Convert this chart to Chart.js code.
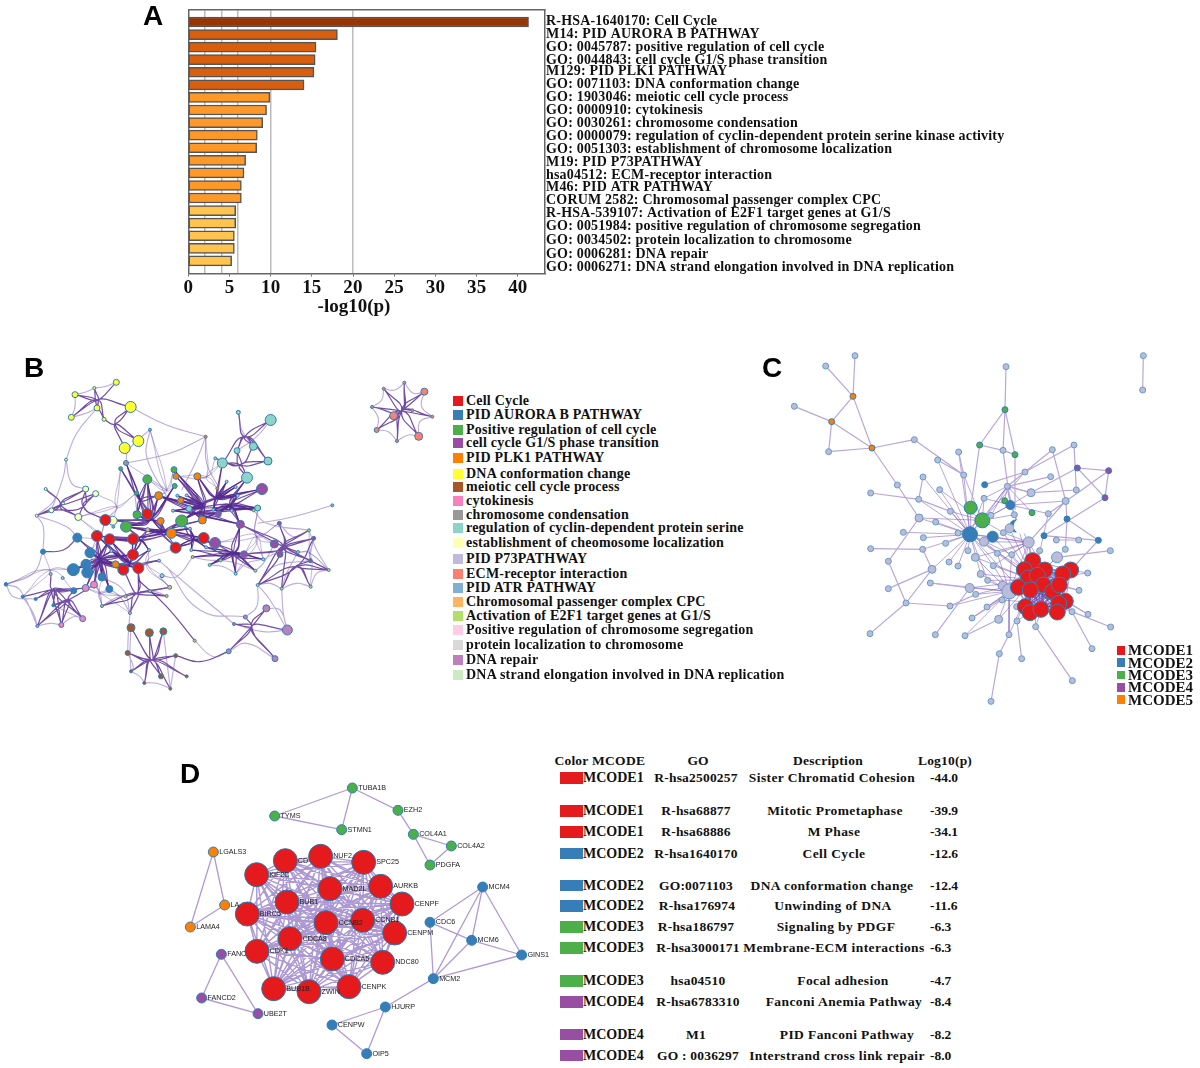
<!DOCTYPE html>
<html lang="en">
<head>
<meta charset="UTF-8">
<title>Enrichment and MCODE networks</title>
<script src="https://cdn.jsdelivr.net/npm/chart.js"></script>
<style>
    body { margin: 0; background: #fff; }
    #page { position: relative; width: 1200px; height: 1068px; overflow: hidden; font-family: "Liberation Serif", serif; font-weight: bold; color: #111; }
    canvas { position: absolute; }
    .panel { position: absolute; font: bold 28px "Liberation Sans", sans-serif; color: #000; line-height: 1; }
    .txt { position: absolute; white-space: nowrap; line-height: 1; transform: translateY(-50%); }
    .mid { transform: translate(-50%, -50%); }
    .sw { position: absolute; }
</style>
</head>
<body>
<div id="page">
    <canvas id="barChart" width="880" height="320" style="left:140px;top:0"></canvas>
    <canvas id="netB" width="450" height="350" style="left:0;top:350px"></canvas>
    <canvas id="netC" width="450" height="380" style="left:750px;top:340px"></canvas>
    <canvas id="netD" width="380" height="298" style="left:170px;top:770px"></canvas>
    <div class="panel" style="left:143px;top:2px">A</div>
    <div class="panel" style="left:24px;top:354px">B</div>
    <div class="panel" style="left:762px;top:354px">C</div>
    <div class="panel" style="left:180px;top:760px">D</div>
</div>
<script>
// Panel A
const termLabels = [
    'R-HSA-1640170: Cell Cycle', 'M14: PID AURORA B PATHWAY', 'GO: 0045787: positive regulation of cell cycle',
    'GO: 0044843: cell cycle G1/S phase transition', 'M129: PID PLK1 PATHWAY', 'GO: 0071103: DNA conformation change',
    'GO: 1903046: meiotic cell cycle process', 'GO: 0000910: cytokinesis', 'GO: 0030261: chromosome condensation',
    'GO: 0000079: regulation of cyclin-dependent protein serine kinase activity', 'GO: 0051303: establishment of chromosome localization',
    'M19: PID P73PATHWAY', 'hsa04512: ECM-receptor interaction', 'M46: PID ATR PATHWAY', 'CORUM 2582: Chromosomal passenger complex CPC',
    'R-HSA-539107: Activation of E2F1 target genes at G1/S', 'GO: 0051984: positive regulation of chromosome segregation',
    'GO: 0034502: protein localization to chromosome', 'GO: 0006281: DNA repair', 'GO: 0006271: DNA strand elongation involved in DNA replication'
];
const termLabelY = [19, 32, 45, 58, 70, 83, 96, 109, 122, 135, 148, 161, 174, 187, 200, 213, 226, 240, 254, 267];
const logP = [41.3, 18.1, 15.5, 15.4, 15.25, 14.05, 9.9, 9.5, 9.03, 8.38, 8.3, 6.96, 6.76, 6.44, 6.44, 5.75, 5.75, 5.59, 5.59, 5.26];
const barTier = [0, 1, 1, 1, 1, 1, 2, 2, 2, 2, 2, 2, 2, 2, 2, 3, 3, 3, 3, 3];
const tierColors = ['#993404', '#d95f0e', '#fe9929', '#fec44f'];
const gridValues = [2, 4, 6, 10, 20];
const xTickStep = 5;

// Panel B legend
const termLegend = ['Cell Cycle', 'PID AURORA B PATHWAY', 'Positive regulation of cell cycle', 'cell cycle G1/S phase transition', 'PID PLK1 PATHWAY',
    'DNA conformation change', 'meiotic cell cycle process', 'cytokinesis', 'chromosome condensation', 'regulation of cyclin-dependent protein serine',
    'establishment of cheomosome localization', 'PID P73PATHWAY', 'ECM-receptor interaction', 'PID ATR PATHWAY', 'Chromosomal passenger complex CPC',
    'Activation of E2F1 target genes at G1/S', 'Positive regulation of chromosome segregation', 'protein localization to chromosome', 'DNA repair',
    'DNA strand elongation involved in DNA replication'];
const termColors = ['#e41a1c', '#377eb8', '#4daf4a', '#984ea3', '#ff7f00', '#ffff33', '#a65628', '#f781bf', '#999999', '#8dd3c7',
    '#ffffb3', '#bebada', '#fb8072', '#80b1d3', '#fdb462', '#b3de69', '#fccde5', '#d9d9d9', '#bc80bd', '#ccebc5'];
const termLegendY = [400.7, 415, 430, 443.3, 458.3, 474, 486.7, 500.7, 515.3, 528.3, 543.3, 559, 574, 588, 602, 616, 630, 645, 660, 674.7];

// Panel B nodes, x / y / r, one list per term
const bCellCycle = [[316,510,5.5],[291,558,5.5],[329,568,5.5],[399,567,5.5],[442,492,5.5],[399,614,5.5],[370,659,5.5],[415,654,5.5],[527,593,5.5],[611,564,5.5]];
const bAurora = [[232,563,4.5],[270,608,5],[258,643,5],[220,659,6],[262,667,5.5],[306,681,4],[328,717,3.5],[129,605,2.5],[221,722,3],[18,703,1.8],[68,740,1.5],[107,747,1.5],[160,766,1.5]];
const bPosReg = [[442,388,4.5],[522,359,3],[524,408,2.5],[411,494,4],[378,530,5.5],[545,513,6],[362,356,2],[410,429,2]];
const bG1S = [[786,417,5.5],[645,579,5.5],[721,523,4],[823,582,4],[732,613,3.5],[840,613,3],[655,492,3],[838,520,2],[941,565,2],[931,632,2]];
const bPlk1 = [[476,437,4],[528,379,3],[592,379,3.5],[542,451,3],[482,513,3.5],[607,510,4],[514,550,5],[347,643,3.5],[652,415,1.5],[617,260,1.5]];
const bDnaConf = [[392,171,5.5],[415,273,5.5],[374,294,5.5],[349,97,3],[225,134,3],[214,202,3],[291,174,3],[283,114,1.5],[312,208,2],[198,329,1.5]];
const bMeiotic = [[393,833,4],[448,848,4],[490,844,3.5],[383,909,2.5],[527,917,2],[393,964,1.5],[483,979,2.5],[560,979,1.5],[433,999,1.5],[511,1016,1.5]];
const bCytokinesis = [[282,704,3.5],[257,714,3.5],[248,806,3],[184,825,2.5],[112,828,1.5]];
const bCondensation = [[378,339,2.5]];
const bCyclinReg = [[812,210,5.5],[667,339,5],[741,383,5.5],[760,289,4],[804,333,4],[711,302,3],[715,187,2],[773,474,3],[567,476,3],[646,325,1.5]];
const bLocalization = [[338,512,4.5],[235,501,3.5],[287,431,3],[257,417,3],[154,481,2.5],[189,460,1.5],[137,417,1.5],[110,497,1.5]];
const bP73 = [[486,677,2],[447,600,1.5],[334,603,1.5],[532,437,1.5],[560,436,1.5],[680,395,1.5],[707,411,1.5],[713,437,1.5],[695,482,1.5],[519,482,1.5],[640,479,1.5],[570,536,1.5],[618,592,1.5],[574,600,1.5],[477,632,1.5],[152,672,1.5],[188,684,1.5]];
const bEcm = [[1273,125,3.5],[1256,259,4],[1181,197,4],[1130,240,2.5],[1151,116,1.5],[1213,98,1.5],[1116,171,1.5],[1297,200,1.5],[1191,273,1.5],[1237,181,1.5]];
const bAtr = [[997,466,1.5],[450,239,1.5],[340,530,1.5]];
const bCpc = [[443,539,2],[509,712,2],[450,723,1.5],[500,738,1.5],[376,739,1.5],[306,768,1.5],[390,789,1.5],[584,872,1.5],[578,621,1.5]];
const bE2f = [[927,541,1.5],[894,606,1.5],[790,628,1.5],[766,662,1.5],[707,671,1.5],[662,631,1.5],[629,645,1.5],[761,481,1.5],[773,705,1.5],[932,710,1.5],[845,716,1.5],[986,660,1.5]];
const bDnaRepair = [[862,840,5],[799,775,3.5],[736,801,2],[702,822,1.5],[686,904,2.5],[825,926,3]];
const bNodeSets = [bCellCycle, bAurora, bPosReg, bG1S, bPlk1, bDnaConf, bMeiotic, bCytokinesis, bCondensation, bCyclinReg, bLocalization, bP73, bEcm, bAtr, bCpc, bE2f, [], [], bDnaRepair, []];

// Panel B bundles: first pair is the junction, the rest are the nodes that meet there
const bBundles = [
    [1205,183, 1181,197,1273,125,1256,259,1130,240,1151,116,1213,98,1116,171,1297,200,1191,273,1237,181],
    [292,150, 349,97,283,114,225,134,291,174,214,202,312,208,392,171],
    [345,222, 312,208,392,171,415,273,374,294],
    [735,260, 715,187,812,210,760,289,711,302,804,333,667,339],
    [720,345, 667,339,741,383,804,333,711,302,646,325,760,289],
    [160,720, 68,740,107,747,160,766,112,828,184,825,248,806,221,722,257,714,152,672],
    [205,750, 221,722,248,806,184,825,112,828,160,766,282,704],
    [180,465, 137,417,110,497,154,481,189,460,235,501,257,417,287,431],
    [250,470, 235,501,287,431,316,510,257,417,154,481],
    [850,590, 823,582,840,613,941,565,927,541,931,632,894,606,986,660,721,523,732,613,838,520,773,705,845,716],
    [890,650, 931,632,986,660,845,716,932,710,773,705,941,565],
    [455,930, 393,833,448,848,490,844,383,909,527,917,393,964,483,979,560,979,433,999,511,1016],
    [410,730, 376,739,450,723,509,712,500,738,390,789,306,768,415,654,370,659],
    [755,830, 736,801,702,822,686,904,799,775,825,926,862,840]
];
// the crowded middle of the network, each junction is walked twice
const bDenseBundles = [
    [610,470, 592,379,528,379,522,359,476,437,542,451,567,476,532,437,560,436,519,482,545,513,607,510],
    [650,445, 667,339,652,415,592,379,680,395,707,411,713,437,640,479,567,476,786,417,741,383],
    [690,465, 786,417,741,383,773,474,761,481,695,482,721,523,655,492,713,437,640,479,607,510,567,476],
    [590,490, 545,513,607,510,655,492,721,523,773,474,519,482,476,437],
    [490,545, 514,550,545,513,482,513,442,492,378,530,399,567,443,539,570,536,611,564,527,593,607,510],
    [450,510, 442,492,411,494,476,437,524,408,410,429,442,388,378,530,338,512,316,510,482,513],
    [420,450, 362,356,378,339,442,388,410,429,411,494,476,437],
    [420,570, 378,530,399,567,447,600,399,614,329,568,291,558,514,550,443,539],
    [580,570, 545,513,611,564,645,579,527,593,570,536,574,600,618,592,514,550],
    [300,630, 232,563,270,608,258,643,220,659,262,667,306,681,328,717,291,558,329,568,370,659,415,654,347,643,399,614,334,603,282,704,257,714],
    [390,640, 399,567,370,659,415,654,347,643,334,603,447,600,329,568,291,558,477,632],
    [700,610, 645,579,732,613,662,631,629,645,707,671,766,662,790,628,721,523,618,592,578,621,574,600]
];
const bLightBundles = [
    [620,380, 617,260,592,379,667,339,652,415,528,379,646,325],
    [500,420, 378,339,442,388,522,359,476,437,450,239,524,408],
    [350,470, 287,431,316,510,235,501,410,429,362,356,338,512],
    [440,640, 486,677,477,632,415,654,447,600,509,712,527,593],
    [300,560, 232,563,235,501,291,558,316,510,270,608,334,603],
    [150,660, 129,605,152,672,220,659,68,740,18,703,221,722],
    [300,730, 306,681,328,717,376,739,306,768,282,704,257,714,390,789],
    [770,560, 721,523,732,613,790,628,823,582,773,474,838,520,645,579,707,671],
    [930,610, 927,541,941,565,931,632,986,660,894,606,932,710]
];
const bStrongArcs = [[415,690,500,770,584,872],[686,904,600,935,528,917],[129,605,190,600,232,563]];
const bLightArcs = [
    [1151,116,1185,120,1213,98],[1213,98,1240,130,1273,125],[1273,125,1265,170,1297,200],[1297,200,1260,215,1256,259],[1256,259,1225,255,1191,273],[1191,273,1165,245,1130,240],[1130,240,1135,205,1116,171],[1116,171,1145,150,1151,116],
    [349,97,312,110,283,114],[283,114,260,125,225,134],[225,134,225,170,214,202],[214,202,258,190,291,174],[198,329,230,250,291,174],[198,329,190,380,154,481],[198,329,215,400,257,417],[137,417,165,445,110,497],[110,497,130,530,129,605],[110,497,200,530,232,563],
    [392,171,500,225,617,260],[378,339,510,310,617,260],[617,260,620,340,655,410],[617,260,590,330,545,420],[450,239,440,320,500,440],[450,239,385,300,378,339],[362,356,400,420,410,480],
    [715,187,725,240,760,289],[812,210,770,260,711,302],[129,605,100,670,18,703],[18,703,60,720,112,828],[18,703,40,740,107,747],[68,740,100,790,112,828],[112,828,150,820,184,825],[184,825,220,800,248,806],[160,766,210,790,248,806],
    [997,466,880,500,773,520],[838,520,880,560,927,541],[927,541,950,600,986,660],[986,660,950,670,932,710],[932,710,890,700,845,716],[845,716,810,700,773,705],[773,705,770,770,736,801],[773,705,810,750,862,840],[799,775,840,780,862,840],[845,716,850,790,862,840],[686,904,740,880,825,926],[862,840,790,845,702,822],[584,872,640,920,686,904],[477,632,580,720,702,822],[500,650,600,780,736,801],[486,677,530,680,578,621],[509,712,480,680,486,677],
    [390,789,385,850,383,909],[393,833,390,900,393,964],[490,844,500,930,511,1016],[527,917,520,960,511,1016],[433,999,470,1000,511,1016],[393,964,420,980,433,999],[383,909,400,950,393,964],[306,768,345,745,376,739],[500,738,460,725,376,739],[509,712,450,723,376,739],[306,768,290,700,270,608],[390,789,370,720,306,681],[328,717,360,740,390,789],
    [761,481,800,520,927,541],[790,628,830,610,894,606],[707,671,740,640,790,628],[766,662,790,640,823,582],[629,645,670,650,707,671],[662,631,710,640,766,662],[578,621,620,630,662,631],[845,716,860,670,894,606],[773,705,820,650,931,632]
];

// Panel C
const mcodeNames = ['MCODE1', 'MCODE2', 'MCODE3', 'MCODE4', 'MCODE5'];
const mcodeColors = ['#e41a1c', '#377eb8', '#4daf4a', '#984ea3', '#ff7f00'];
const mcodeLegendY = [650.3, 662.7, 675, 687.3, 699.7];
const cOther = [[315,47,3],[227,78,3],[133,199,3],[236,335,3],[493,299,3],[768,80,3],[1180,47,3],[1178,150,3],[563,360,3],[626,336,3],[759,331,3],[907,329,3],[972,315,3],[641,405,3],[519,411,3],[442,435,3],[569,449,3],[362,459,3],[506,478,3],[702,475,3],[772,439,3],[825,396,3],[902,410,3],[843,458,4],[979,450,3],[947,483,3.5],[601,514,3],[507,534,4],[557,546,3],[723,526,3],[793,524,3],[895,521,3],[460,577,3],[520,593,3],[624,579,3],[587,610,3],[760,578,3],[779,565,4.5],[836,607,5.5],[702,605,4.5],[919,600,3],[986,600,3],[1081,632,3],[362,626,3],[518,628,3],[654,632,3],[742,640,3],[785,644,3],[869,632,3],[946,628,3],[415,664,3],[597,666,3],[624,678,3],[676,652,4],[921,652,5.5],[730,677,3],[546,688,4],[692,702,3.5],[713,721,3],[1013,699,3],[541,729,3],[415,746,3],[659,744,4.5],[758,737,4.5],[778,754,7.5],[677,763,3],[987,751,3],[468,789,3],[600,798,3],[756,780,3],[711,801,3],[800,800,3],[1014,823,3],[966,815,3],[666,834,3],[746,838,4],[801,843,3],[857,860,3],[1082,861,3],[360,881,3],[556,884,3],[645,887,3],[777,884,3],[1026,926,3],[748,941,3],[815,956,3],[967,1022,3],[723,1084,3]];
const cMcode1 = [[848,662,8],[823,689,8],[884,690,8],[962,690,8],[938,702,8],[835,714,8],[862,706,8],[880,735,8],[805,742,8],[841,750,8],[908,755,8],[928,735,8],[826,800,8],[840,818,8],[873,808,8],[946,784,8],[926,790,8],[922,816,8]];
const cMcode2 = [[704,434,3],[781,495,4.5],[951,537,3],[882,587,3],[1045,601,3],[660,583,7.5],[728,590,5.5],[797,558,6]];
const cMcode3 = [[765,209,3],[689,315,3],[795,344,3],[764,482,3],[846,518,3],[662,503,6.5],[697,541,7.5]];
const cMcode4 = [[982,384,3],[1076,392,3],[1065,473,3]];
const cMcode5 = [[309,169,3],[245,245,3],[366,324,3]];
const cBlank = [[815,558,7.5]];
const cLinks = [[315,47,309,169],[227,78,309,169],[309,169,245,245],[309,169,366,324],[133,199,245,245],[245,245,236,335],[245,245,366,324],[236,335,366,324],[366,324,493,299],[366,324,442,435],[493,299,641,405],[442,435,507,534],
    [768,80,765,209],[765,209,689,315],[765,209,759,331],[765,209,795,344],[689,315,759,331],[759,331,795,344],[689,315,662,503],[795,344,795,510],[759,331,781,495],[1180,47,1178,150],
    [362,459,506,478],[506,478,601,514],[519,411,506,478],[507,534,415,664],[415,664,468,789],[415,746,546,688],[468,789,600,798],[468,789,546,688],[360,881,468,789],[362,626,518,628],[518,628,546,688],[541,729,659,744],[556,884,659,744],[645,887,746,838],[600,798,677,763],[723,1084,748,941],[748,941,777,884],[815,956,801,843],[967,1022,857,860],[1026,926,966,815],[1082,861,966,815],[1014,823,946,784],[987,751,928,735],[1013,699,962,690],[1081,632,921,652],[986,600,919,600],[1045,601,882,587],[1045,601,951,537],[1045,601,962,690],[951,537,947,483],[951,537,946,628],[947,483,907,329],[947,483,836,607],[972,315,825,396],[907,329,772,439],[972,315,979,450],[979,450,843,458],[982,384,1076,392],[982,384,1065,473],[1076,392,1065,473],[982,384,843,458],[1076,392,895,521],[1065,473,882,587],[902,410,772,439],[563,360,641,405],[626,336,641,405],[825,396,704,434],[843,458,772,439],[825,396,772,439]];
const cStars = [
    [660,583, 563,360,626,336,641,405,519,411,569,449,506,478,601,514,507,534,557,546,460,577,520,593,624,579,587,610,518,628,654,632,597,666,624,678,546,688,702,605,728,590,697,541,662,503,772,439,702,475],
    [697,541, 641,405,702,475,772,439,825,396,601,514,569,449,507,534,624,579,781,495,793,524,760,578],
    [850,720, 836,607,869,632,785,644,742,640,676,652,730,677,692,702,713,721,659,744,677,763,758,737,756,780,711,801,666,834,746,838,801,843,777,884,857,860,921,652,946,628,895,521,793,524,779,565,760,578,728,590,702,605,1014,823,966,815,987,751,1013,699],
    [778,754, 836,607,742,640,785,644,676,652,692,702,713,721,659,744,677,763,600,798,711,801,666,834,645,887,746,838,777,884,730,677,541,729,848,662,823,689,835,714],
    [660,583, 836,607,730,677,692,702,713,721,785,644,742,640,805,742,823,689],
    [880,790, 826,800,840,818,873,808,946,784,926,790,922,816,908,755,841,750,805,742,880,735,928,735,835,714,862,706,884,690,848,662,800,800,756,780,857,860,801,843,966,815],
    [772,439, 702,475,723,526,793,524,781,495,843,458,764,482,846,518],
    [781,495, 702,475,723,526,793,524,843,458,895,521,947,483],
    [836,607, 728,590,760,578,702,605,742,640,785,644,676,652,730,677,793,524,848,662,823,689,884,690]
];

// Panel D
const dMcode1 = { KIF2C:[260,314], CD:[346,272], NUF2:[452,259], SPC25:[581,277], MAD2L:[480,356], AURKB:[632,349], BUB1:[351,396], CENPF:[696,402], BIRC5:[232,432], CCNB2:[468,458], CCNB1:[578,451], CENPM:[674,489], CDCA8:[360,506], CDK1:[261,544], CDCA5:[487,567], NDC80:[638,577], BUB1B:[311,656], ZWIN:[417,665], CENPK:[537,650] };
const dMcode2 = { MCM4:[938,351], CDC6:[780,457], MCM6:[905,511], GINS1:[1055,555], MCM2:[790,626], HJURP:[646,711], CENPW:[486,765], OIP5:[590,851] };
const dMcode3 = { TUBA1B:[547,54], EZH2:[684,121], COL4A1:[730,193], COL4A2:[844,228], PDGFA:[780,285], TYMS:[314,138], STMN1:[515,179] };
const dMcode4 = { FANC:[154,553], FANCD2:[95,684], UBE2T:[264,731] };
const dMcode5 = { LGALS3:[130,246], LA:[164,405], LAMA4:[61,471] };
const dLinks = [['TYMS','TUBA1B'],['TYMS','STMN1'],['TUBA1B','STMN1'],['TUBA1B','EZH2'],['EZH2','COL4A1'],['COL4A1','COL4A2'],['COL4A1','PDGFA'],['COL4A2','PDGFA'],
    ['LGALS3','LA'],['LGALS3','LAMA4'],['LA','LAMA4'],['FANC','FANCD2'],['FANC','UBE2T'],['FANCD2','UBE2T'],
    ['MCM4','MCM2'],['MCM4','MCM6'],['MCM4','GINS1'],['MCM4','CDC6'],['CDC6','MCM6'],['CDC6','MCM2'],['MCM6','GINS1'],['MCM6','MCM2'],['MCM2','GINS1'],['MCM2','HJURP'],['HJURP','CENPW'],['HJURP','OIP5'],['CENPW','OIP5']];

// Panel D table
const tableMcode = [0, 0, 0, 1, 1, 1, 2, 2, 2, 3, 3, 3];
const tableGo = ['R-hsa2500257', 'R-hsa68877', 'R-hsa68886', 'R-hsa1640170', 'GO:0071103', 'R-hsa176974', 'R-hsa186797', 'R-hsa3000171', 'hsa04510', 'R-hsa6783310', 'M1', 'GO : 0036297'];
const tableDesc = ['Sister Chromatid Cohesion', 'Mitotic Prometaphase', 'M Phase', 'Cell Cycle', 'DNA conformation change', 'Unwinding of DNA', 'Signaling by PDGF', 'Membrane-ECM interactions', 'Focal adhesion', 'Fanconi Anemia Pathway', 'PID Fanconi Pathway', 'Interstrand cross link repair'];
const tableLog = ['-44.0', '-39.9', '-34.1', '-12.6', '-12.4', '-11.6', '-6.3', '-6.3', '-4.7', '-8.4', '-8.2', '-8.0'];
const tableY = [778, 811, 832, 853.5, 885.5, 906, 927, 948, 981, 1002, 1034.5, 1055.5];
const tableGoX = [696, 696, 696, 696, 696, 697, 696, 698, 698, 698, 696, 698];
const tableDescX = [832, 835, 834, 834, 832, 833, 836, 834, 843, 844, 847, 837];

// page text
const page = document.getElementById('page');
function addText(text, x, y, size, cls, spacing) {
    const d = document.createElement('div');
    d.className = 'txt ' + (cls || '');
    d.textContent = text;
    d.style.cssText = `left:${x}px;top:${y}px;font-size:${size}px;letter-spacing:${spacing || 0}px`;
    page.appendChild(d);
}
function addSwatch(x, y, w, h, color) {
    const d = document.createElement('div');
    d.className = 'sw';
    d.style.cssText = `left:${x}px;top:${y - h / 2}px;width:${w}px;height:${h}px;background:${color}`;
    page.appendChild(d);
}
termLegend.forEach((t, i) => {
    addSwatch(453, termLegendY[i], 10, 10, termColors[i]);
    addText(t, 466, termLegendY[i], 14, '', 0.22);
});
mcodeNames.forEach((t, i) => {
    addSwatch(1116.7, mcodeLegendY[i], 8.5, 8.5, mcodeColors[i]);
    addText(t, 1128, mcodeLegendY[i], 15);
});
addText('-log10(p)', 354, 305, 19, 'mid');
addText('Color', 554.5, 761, 13.5, '', 0.2);
addText('MCODE', 592, 761, 13.5, '', 0.3);
addText('GO', 698, 761, 13.5, 'mid');
addText('Description', 828, 760.5, 13.5, 'mid', 0.3);
addText('Log10(p)', 945, 760.5, 13.5, 'mid', 0.2);
tableY.forEach((y, i) => {
    addSwatch(559.5, y, 23, 11.5, mcodeColors[tableMcode[i]]);
    addText(mcodeNames[tableMcode[i]], 583, y, 14);
    addText(tableGo[i], tableGoX[i], y, 13.5, 'mid', 0.2);
    addText(tableDesc[i], tableDescX[i], y, 13.5, 'mid', 0.4);
    addText(tableLog[i], 930, y, 13.5);
});

// bar chart
const frameColor = '#666';
const serif = '"Liberation Serif", serif';
new Chart(document.getElementById('barChart'), {
    type: 'bar',
    data: {
        labels: ['', ...termLabels, ''],
        datasets: [{
            data: [null, ...logP, null],
            backgroundColor: [null, ...barTier.map(t => tierColors[t]), null],
            borderColor: '#555',
            borderWidth: 1.5,
            borderSkipped: false,
            barThickness: 10,
            xAxisID: 'x',
            yAxisID: 'y'
        }]
    },
    options: {
        indexAxis: 'y',
        responsive: false,
        animation: false,
        events: [],
        layout: { padding: { left: 48.3, top: 7 } },
        plugins: { legend: { display: false }, tooltip: { enabled: false } },
        scales: {
            x: {
                position: 'bottom', min: 0, max: 43.3,
                border: { color: frameColor, width: 1.5 },
                grid: { drawOnChartArea: false, color: frameColor, tickLength: 3 },
                ticks: { stepSize: xTickStep, includeBounds: false, maxRotation: 0, color: '#111', padding: 0, font: { family: serif, weight: 'bold', size: 19 } },
                afterFit(s) { s.height = 46.5; }
            },
            x2: {
                type: 'linear', position: 'top', min: 0, max: 43.3,
                border: { color: frameColor, width: 1.5 },
                grid: { color: '#bbb', lineWidth: 1.5, drawTicks: false },
                ticks: { display: false },
                afterBuildTicks(s) { s.ticks = gridValues.map(v => ({ value: v })); },
                afterFit(s) { s.height = 0; }
            },
            y: {
                position: 'left', offset: false,
                border: { color: frameColor, width: 1.5 },
                grid: { display: false, drawTicks: false },
                ticks: { display: false },
                afterFit(s) { s.width = 0; }
            },
            y2: {
                // this axis only places the term names, its unit is one page pixel
                type: 'linear', position: 'right', min: 7, max: 273.5, reverse: true, offset: false,
                border: { color: frameColor, width: 1.5 },
                grid: { display: false, drawTicks: false },
                ticks: { autoSkip: false, color: '#111', padding: 1, font: { family: serif, weight: 'bold', size: 14 }, callback: v => termLabels[termLabelY.indexOf(v)] },
                afterBuildTicks(s) { s.ticks = termLabelY.map(v => ({ value: v })); },
                afterFit(s) { s.width = 475; }
            }
        }
    },
    plugins: [{ id: 'spacing', beforeDraw(c) { c.ctx.letterSpacing = '0.19px'; } }]
});

// network helpers
function toPoints(list) {
    return list.map(n => ({ x: n[0], y: n[1], r: n[2] }));
}
function flatPaths(paths) {
    const out = [];
    paths.forEach(p => {
        for (let i = 0; i < p.length; i += 2) out.push({ x: p[i], y: p[i + 1] });
        out.push({ x: NaN, y: NaN });
    });
    return out;
}
function bundlePaths(bundles, step) {
    const out = [];
    bundles.forEach(b => {
        for (let i = 2; i + step * 2 < b.length; i += 2) out.push([b[i], b[i + 1], b[0], b[1], b[i + step * 2], b[i + step * 2 + 1]]);
    });
    return out;
}
function starPaths(stars) {
    const out = [];
    stars.forEach(s => {
        for (let i = 2; i < s.length; i += 2) out.push([s[0], s[1], s[i], s[i + 1]]);
    });
    return out;
}
function edgeSet(paths, color, width, tension) {
    return { type: 'scatter', showLine: true, data: flatPaths(paths), borderColor: color, borderWidth: width, tension: tension, pointRadius: 0, order: 2, spanGaps: false };
}
function nodeSet(points, color, order, border) {
    return { type: 'bubble', data: points, backgroundColor: color, borderColor: border || '#2f7fb5', borderWidth: 1, order: order || 1 };
}
function netChart(id, w, h, datasets, plugins) {
    new Chart(document.getElementById(id), {
        type: 'bubble',
        data: { datasets: datasets },
        options: {
            responsive: false,
            animation: false,
            events: [],
            layout: { autoPadding: false },
            plugins: { legend: { display: false }, tooltip: { enabled: false } },
            scales: {
                x: { display: false, min: 0, max: w },
                y: { display: false, min: 0, max: h, reverse: true }
            }
        },
        plugins: plugins || []
    });
}

// panel B
const bDarkLine = 'rgba(78,32,140,0.8)';
netChart('netB', 1350, 1050, [
    edgeSet(bLightArcs, 'rgba(120,90,180,0.5)', 1.1, 0.45),
    edgeSet(bundlePaths(bLightBundles, 1), 'rgba(120,90,180,0.45)', 1, 0.5),
    edgeSet(bundlePaths(bBundles, 1), bDarkLine, 1.2, 0.5),
    edgeSet(bundlePaths(bDenseBundles, 1), bDarkLine, 1.2, 0.5),
    edgeSet(bundlePaths(bDenseBundles, 3), bDarkLine, 1.1, 0.5),
    edgeSet(bStrongArcs, bDarkLine, 1.2, 0.45),
    ...bNodeSets.map((s, i) => nodeSet(toPoints(s), termColors[i]))
]);

// panel C
const cRedLinks = [];
cMcode1.forEach((a, i) => cMcode1.slice(i + 1).forEach(b => cRedLinks.push([a[0], a[1], b[0], b[1]])));
netChart('netC', 1350, 1140, [
    edgeSet(cLinks, '#b9a7d8', 1.2, 0),
    edgeSet(starPaths(cStars), 'rgba(125,90,185,0.6)', 0.9, 0),
    edgeSet(cRedLinks, 'rgba(90,50,160,0.55)', 0.9, 0),
    nodeSet(toPoints(cOther), '#bebada', 1, '#5f9fc9'),
    nodeSet(toPoints(cMcode2), mcodeColors[1]),
    nodeSet(toPoints(cMcode3), mcodeColors[2]),
    nodeSet(toPoints(cMcode4), mcodeColors[3]),
    nodeSet(toPoints(cMcode5), mcodeColors[4]),
    nodeSet(toPoints(cBlank), '#ffffff', 0.5, '#ffffff'),
    nodeSet(toPoints(cMcode1), mcodeColors[0], 0.2)
]);

// panel D
const dAll = { ...dMcode1, ...dMcode2, ...dMcode3, ...dMcode4, ...dMcode5 };
const dRed = Object.keys(dMcode1);
const dRedLinks = [];
dRed.forEach((a, i) => dRed.slice(i + 1).forEach(b => dRedLinks.push([...dAll[a], ...dAll[b]])));
const dNodes = (group, r) => Object.values(group).map(p => ({ x: p[0], y: p[1], r: r }));
netChart('netD', 1140, 894, [
    edgeSet(dLinks.map(l => [...dAll[l[0]], ...dAll[l[1]]]), '#b09ad6', 1.3, 0),
    edgeSet(dRedLinks, 'rgba(90,50,165,0.5)', 1.4, 0),
    nodeSet(dNodes(dMcode1, 12), mcodeColors[0], 1, '#1f78b4'),
    nodeSet(dNodes(dMcode2, 5), mcodeColors[1]),
    nodeSet(dNodes(dMcode3, 5), mcodeColors[2]),
    nodeSet(dNodes(dMcode4, 5), mcodeColors[3]),
    nodeSet(dNodes(dMcode5, 5), mcodeColors[4])
], [{
    id: 'geneLabels',
    afterDatasetsDraw(c) {
        const ctx = c.ctx;
        ctx.save();
        ctx.font = '7.2px "Liberation Sans", sans-serif';
        ctx.fillStyle = '#222';
        ctx.textBaseline = 'middle';
        Object.keys(dAll).forEach(name => {
            const off = dMcode1[name] ? 12.5 : 5.8;
            ctx.fillText(name, c.scales.x.getPixelForValue(dAll[name][0]) + off, c.scales.y.getPixelForValue(dAll[name][1]));
        });
        ctx.restore();
    }
}]);
</script>
</body>
</html>
